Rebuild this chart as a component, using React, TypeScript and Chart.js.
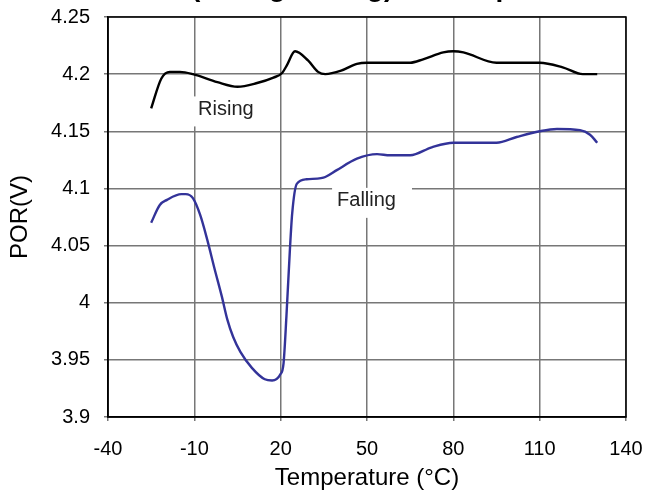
import React, { useEffect, useRef } from "react";
import { Chart, registerables } from "chart.js";

Chart.register(...registerables);

// ---- data ----
const risingT = [-25, -21.5, -18.5, -15, -10.5, -2, 5, 11.5, 17.5, 20.5, 22, 25, 29.5, 33, 35.5, 41, 46.5, 50, 65, 69.5, 76.5, 80, 83.5, 95, 110, 118, 125, 130];
const risingV = [4.17, 4.196, 4.202, 4.202, 4.2, 4.193, 4.189, 4.192, 4.197, 4.201, 4.207, 4.22, 4.212, 4.202, 4.2, 4.203, 4.209, 4.21, 4.21, 4.213, 4.219, 4.22, 4.219, 4.21, 4.21, 4.206, 4.2, 4.2];

const fallingT = [-25, -22, -19.5, -14.5, -13, -10.5, -8, -5.5, -3, -0.5, 1.5, 3.5, 6, 10, 14.5, 17, 19.8, 21, 22, 23.2, 24, 25.6, 29, 34, 35.5, 39.5, 46.5, 53.5, 58, 65, 72.5, 80, 95, 102, 110, 116, 124, 127.5, 130];
const fallingV = [4.07, 4.0855, 4.09, 4.095, 4.095, 4.0915, 4.077, 4.055, 4.03, 4.006, 3.985, 3.97, 3.957, 3.943, 3.933, 3.932, 3.937, 3.947, 3.988, 4.046, 4.078, 4.104, 4.108, 4.109, 4.11, 4.116, 4.126, 4.13, 4.129, 4.129, 4.136, 4.14, 4.14, 4.145, 4.15, 4.152, 4.151, 4.147, 4.14];

const xTicks = [-40, -10, 20, 50, 80, 110, 140];
const yTicks = [3.9, 3.95, 4, 4.05, 4.1, 4.15, 4.2, 4.25];

const labelTexts = ["Rising", "Falling"];
const labelT = [-8.7, 39.6];
const labelV = [4.17, 4.09];

const titlePrefix = "POR ";
const titleText = "(Rising/Falling) vs Temperature";
const xTitle = "Temperature (\u00B0C)";
const yTitle = "POR(V)";

const FONT = "Arial, 'Liberation Sans', sans-serif";

const labelPlugin = {
  id: "labelsAndFrame",
  beforeDatasetsDraw(chart: any) {
    const { ctx, chartArea, scales } = chart;
    ctx.save();
    ctx.font = `20px ${FONT}`;
    ctx.textBaseline = "middle";
    ctx.textAlign = "left";
    labelTexts.forEach((t, i) => {
      const x = scales.x.getPixelForValue(labelT[i]);
      const y = scales.y.getPixelForValue(labelV[i]);
      const w = ctx.measureText(t).width;
      ctx.fillStyle = "#ffffff";
      ctx.fillRect(x - 5, y - 12, w + 21, 30);
      ctx.fillStyle = "#222222";
      ctx.fillText(t, x, y + 1);
    });
    ctx.strokeStyle = "#000000";
    ctx.lineWidth = 1.5;
    ctx.strokeRect(chartArea.left, chartArea.top, chartArea.right - chartArea.left, chartArea.bottom - chartArea.top);
    ctx.restore();
  },
  afterDraw(chart: any) {
    const { ctx } = chart;
    ctx.save();
    ctx.font = `bold 28px ${FONT}`;
    ctx.fillStyle = "#000";
    ctx.textAlign = "left";
    ctx.textBaseline = "alphabetic";
    const pw = ctx.measureText(titlePrefix).width;
    ctx.fillText(titlePrefix + titleText, 191 - pw, -4.5);
    ctx.restore();
  },
};

export default function App() {
  const ref = useRef<HTMLCanvasElement>(null);
  useEffect(() => {
    if (!ref.current) return;
    const chart = new Chart(ref.current, {
      type: "line",
      data: {
        datasets: [
          {
            label: "Rising",
            data: risingT.map((t, i) => ({ x: t, y: risingV[i] })),
            borderColor: "#000000",
            borderWidth: 2.4,
            pointRadius: 0,
            cubicInterpolationMode: "monotone",
            fill: false,
          },
          {
            label: "Falling",
            data: fallingT.map((t, i) => ({ x: t, y: fallingV[i] })),
            borderColor: "#333399",
            borderWidth: 2.4,
            pointRadius: 0,
            cubicInterpolationMode: "monotone",
            fill: false,
          },
        ],
      },
      options: {
        responsive: false,
        animation: false,
        layout: { padding: { top: 17, right: 19, left: 0, bottom: 0 } },
        plugins: {
          legend: { display: false },
          title: { display: false },
          tooltip: { enabled: false },
        },
        scales: {
          x: {
            type: "linear",
            min: -40,
            max: 140,
            afterBuildTicks: (s: any) => {
              s.ticks = xTicks.map((v) => ({ value: v }));
            },
            afterFit: (s: any) => {
              s.height = 80;
              s.paddingLeft = 0;
              s.paddingRight = 0;
              s.paddingTop = 0;
              s.paddingBottom = 0;
            },
            ticks: {
              color: "#000",
              font: { family: FONT, size: 20 },
              padding: 16,
              maxRotation: 0,
              autoSkip: false,
            },
            grid: { color: "#777777", lineWidth: 1.5, tickLength: 4, drawTicks: true },
            border: { color: "#000", width: 1.5 },
            title: {
              display: true,
              text: xTitle,
              color: "#000",
              font: { family: FONT, size: 24 },
              padding: { top: 4, bottom: 4 },
            },
          },
          y: {
            type: "linear",
            min: 3.9,
            max: 4.25,
            afterBuildTicks: (s: any) => {
              s.ticks = yTicks.map((v) => ({ value: v }));
            },
            afterFit: (s: any) => {
              s.width = 108;
              s.paddingLeft = 0;
              s.paddingRight = 0;
              s.paddingTop = 0;
              s.paddingBottom = 0;
            },
            ticks: {
              color: "#000",
              font: { family: FONT, size: 20 },
              padding: 14,
              autoSkip: false,
              callback: (v: any) => String(Math.round(Number(v) * 100) / 100),
            },
            grid: { color: "#777777", lineWidth: 1.5, tickLength: 4, drawTicks: true },
            border: { color: "#000", width: 1.5 },
            title: {
              display: true,
              text: yTitle,
              color: "#000",
              font: { family: FONT, size: 24 },
              padding: { top: 6, bottom: 4 },
            },
          },
        },
      },
      plugins: [labelPlugin],
    } as any);
    return () => chart.destroy();
  }, []);
  return (
    <div style={{ position: "absolute", left: 0, top: 0, width: 645, height: 497, background: "#fff" }}>
      <canvas ref={ref} width={645} height={497} />
    </div>
  );
}
